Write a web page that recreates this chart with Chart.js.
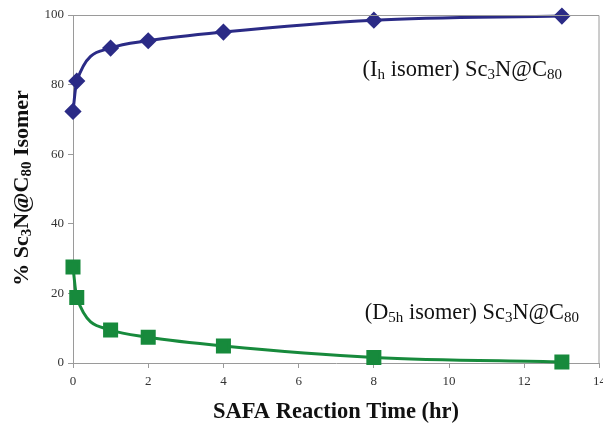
<!DOCTYPE html>
<html>
<head>
  <meta charset="UTF-8">
  <title>Sc3N@C80 isomer vs SAFA time</title>
  <style>
    html, body { margin: 0; padding: 0; background: #fff; overflow: hidden; }
    #wrap { width: 603px; height: 425px; position: relative; overflow: hidden; }
  </style>
  <script src="https://cdn.jsdelivr.net/npm/chart.js"></script>
</head>
<body>
  <div id="wrap"><canvas id="chart" width="612" height="425"></canvas></div>
  <script>
// Reaction time (hr)
var times = [0, 0.1, 1, 2, 4, 8, 13];
// % Ih isomer
var ihValues = [72.3, 81.0, 90.5, 92.6, 95.1, 98.5, 99.7];
// % D5h isomer
var d5hValues = [27.6, 18.8, 9.5, 7.4, 4.9, 1.6, 0.3];

var xTicks = [0, 2, 4, 6, 8, 10, 12, 14];
var yTicks = [0, 20, 40, 60, 80, 100];

var SERIF = "'Liberation Serif', 'DejaVu Serif', serif";
var BLUE = "#2b2b86";
var GREEN = "#178a3c";
var AXIS = "#9a9a9a";

function toXY(xs, ys) {
  var out = [];
  for (var i = 0; i < xs.length; i++) out.push({ x: xs[i], y: ys[i] });
  return out;
}

/* Draw a string made of [text, isSub] pieces, starting at x */
function drawPieces(ctx, pieces, x, y, size, bold) {
  var w = 0;
  for (var i = 0; i < pieces.length; i++) {
    var sub = pieces[i][1];
    var fs = sub ? Math.round(size * 0.68) : size;
    ctx.font = (bold ? "bold " : "") + fs + "px " + SERIF;
    ctx.fillText(pieces[i][0], x + w, y + (sub ? size * 0.22 : 0));
    w += ctx.measureText(pieces[i][0]).width;
  }
  return w;
}
function measurePieces(ctx, pieces, size, bold) {
  var w = 0;
  for (var i = 0; i < pieces.length; i++) {
    var fs = pieces[i][1] ? Math.round(size * 0.68) : size;
    ctx.font = (bold ? "bold " : "") + fs + "px " + SERIF;
    w += ctx.measureText(pieces[i][0]).width;
  }
  return w;
}

var labelsPlugin = {
  id: "labels",
  afterDraw: function(chart) {
    var ctx = chart.ctx;
    var a = chart.chartArea;
    var xs = chart.scales.x, ys = chart.scales.y;
    ctx.save();
    // top and right frame
    ctx.strokeStyle = AXIS;
    ctx.lineWidth = 1;
    ctx.beginPath();
    ctx.moveTo(a.left, a.top + 0.5);
    ctx.lineTo(a.right - 0.5, a.top + 0.5);
    ctx.lineTo(a.right - 0.5, a.bottom);
    ctx.stroke();

    ctx.fillStyle = "#111";
    ctx.textBaseline = "middle";
    // series annotations
    drawPieces(ctx, [["(I", 0], ["h", 1], [" isomer) Sc", 0], ["3", 1], ["N@C", 0], ["80", 1]],
      xs.getPixelForValue(7.7), ys.getPixelForValue(84.3), 22.5, false);
    drawPieces(ctx, [["(D", 0], ["5h", 1], [" isomer) Sc", 0], ["3", 1], ["N@C", 0], ["80", 1]],
      xs.getPixelForValue(7.76), ys.getPixelForValue(14.4), 22.3, false);

    // x axis title
    drawPieces(ctx, [["SAFA Reaction Time (hr)", 0]], 213, 412, 22.5, true);

    // y axis title
    var yt = [["% Sc", 0], ["3", 1], ["N@C", 0], ["80", 1], [" Isomer", 0]];
    var wy = measurePieces(ctx, yt, 22, true);
    ctx.translate(22, 188);
    ctx.rotate(-Math.PI / 2);
    drawPieces(ctx, yt, -wy / 2, 0, 22, true);
    ctx.restore();
  }
};

var chart = new Chart(document.getElementById("chart"), {
  type: "scatter",
  data: {
    datasets: [{
      label: "Ih isomer",
      data: toXY(times, ihValues),
      showLine: true,
      clip: false,
      borderColor: BLUE,
      backgroundColor: BLUE,
      borderWidth: 3,
      pointStyle: "rectRot",
      pointRadius: 6.5,
      pointHoverRadius: 6.5,
      cubicInterpolationMode: "monotone"
    }, {
      label: "D5h isomer",
      data: toXY(times, d5hValues),
      showLine: true,
      clip: false,
      borderColor: GREEN,
      backgroundColor: GREEN,
      borderWidth: 3,
      pointStyle: "rect",
      pointRadius: 8.5,
      pointHoverRadius: 8.5,
      cubicInterpolationMode: "monotone"
    }]
  },
  options: {
    responsive: false,
    animation: false,
    layout: { padding: { top: 15, right: 3, left: 0, bottom: 0 } },
    plugins: { legend: { display: false }, tooltip: { enabled: false } },
    scales: {
      x: {
        type: "linear",
        min: 0, max: 14,
        afterFit: function(s) { s.height = 62; },
        afterBuildTicks: function(s) { s.ticks = xTicks.map(function(v) { return { value: v }; }); },
        grid: { drawOnChartArea: false, drawTicks: true, tickLength: 5, color: AXIS },
        border: { color: AXIS, width: 1 },
        ticks: { color: "#333", padding: 6, font: { family: SERIF, size: 13 }, maxRotation: 0 }
      },
      y: {
        type: "linear",
        min: 0, max: 100,
        afterFit: function(s) { s.width = 73; },
        afterBuildTicks: function(s) { s.ticks = yTicks.map(function(v) { return { value: v }; }); },
        grid: { drawOnChartArea: false, drawTicks: true, tickLength: 5, color: AXIS },
        border: { color: AXIS, width: 1 },
        ticks: { color: "#333", padding: 4, font: { family: SERIF, size: 13 } }
      }
    }
  },
  plugins: [labelsPlugin]
});
  </script>
</body>
</html>
